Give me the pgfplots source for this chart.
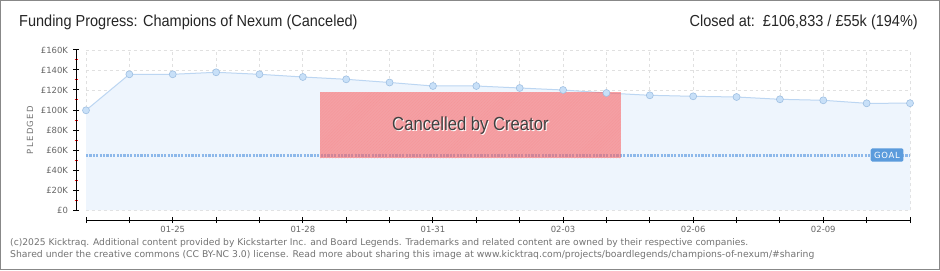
\documentclass[border=0pt]{standalone}
\usepackage{pgfplots}
\pgfplotsset{compat=1.18}
\usepackage{pgfplotstable}
\usepackage{fontspec}
\setmainfont{Liberation Sans}
\newfontfamily\titlefont[FakeStretch=0.91]{Liberation Sans}
\newfontfamily\cancelfont[FakeStretch=0.88]{Liberation Sans}
\newfontfamily\dv{DejaVu Sans}
\usetikzlibrary{patterns}
\definecolor{frame}{HTML}{888888}
\definecolor{tickgray}{HTML}{666666}
\definecolor{areafill}{HTML}{EEF5FD}
\definecolor{linec}{HTML}{BCD6F2}
\definecolor{markfill}{HTML}{C8E0F8}
\definecolor{markdraw}{HTML}{9EBFE2}
\definecolor{goalc}{HTML}{8DB8EA}
\definecolor{goalbox}{HTML}{5B9BDC}
\definecolor{cancel}{HTML}{FA6464}
\definecolor{gridc}{HTML}{E0E0E0}
\pgfplotstableread{
day val
0 99.7
1 135.7
2 135.7
3 137.7
4 135.7
5 133
6 130.7
7 127.5
8 124
9 124
10 122
11 120
12 117
13 114.7
14 113.7
15 113
16 110.7
17 109.7
18 106.7
19 106.8
}\pledged
\pgfplotstableread{
day val
0 55
19 55
}\goal
\begin{document}
\begin{tikzpicture}[x=1bp,y=1bp]
\useasboundingbox (0,0) rectangle (940,270);
\fill[white] (0,0) rectangle (940,270);
\draw[frame, line width=1.5bp] (0.75,0.75) rectangle (939.25,269.25);
\node[anchor=west, font=\titlefont\fontsize{16}{18}\selectfont, text=black!85, inner sep=0] at (19,248) {Funding Progress: Champions of Nexum (Canceled)};
\node[anchor=east, font=\titlefont\fontsize{16}{18}\selectfont, text=black!85, inner sep=0] at (918,248) {Closed at:\ \ £106,833 / £55k (194\%)};
\node[anchor=west, font=\dv\fontsize{9.2}{10}\selectfont, text=black!55, inner sep=0] at (10,27) {(c)2025 Kicktraq. Additional content provided by Kickstarter Inc. and Board Legends. Trademarks and related content are owned by their respective companies.};
\node[anchor=west, font=\dv\fontsize{9.3}{10}\selectfont, text=black!55, inner sep=0] at (10,15) {Shared under the creative commons (CC BY-NC 3.0) license. Read more about sharing this image at www.kicktraq.com/projects/boardlegends/champions-of-nexum/\#sharing};
\node[rotate=90, font=\dv\fontsize{8.5}{10}\selectfont\addfontfeature{LetterSpace=16}, text=black!55, inner sep=0] at (30,140) {PLEDGED};
\begin{axis}[
  at={(86bp,60bp)}, anchor=south west,
  scale only axis, width=824bp, height=160bp,
  xmin=0, xmax=19, ymin=0, ymax=160,
  clip=false,
  axis x line=bottom, axis y line=left,
  axis line shift=10bp,
  axis line style={-, black, line width=1bp},
  xtick={0,...,19},
  xticklabels={,,01-25,,,01-28,,,01-31,,,02-03,,,02-06,,,02-09,,},
  ytick={0,20,...,160},
  yticklabels={£0,£20K,£40K,£60K,£80K,£100K,£120K,£140K,£160K},
  minor y tick num=1,
  tick align=center,
  major tick length=6bp,
  minor tick length=3bp,
  major tick style={black, line width=1bp},
  minor tick style={red, line width=1bp},
  ticklabel style={font=\dv\fontsize{8.5}{10}\selectfont, text=tickgray},
  yticklabel style={xshift=-1.5bp},
  xmajorgrids, ymajorgrids,
  major grid style={gridc, dashed, line width=0.8bp},
]
\addplot[fill=areafill, draw=none] table[x=day,y=val]{\pledged} \closedcycle;
\addplot[goalc, line width=3bp, dash pattern=on 2.2bp off 1.2bp] table[x=day,y=val]{\goal};
\addplot[linec, line width=1bp, mark=*, mark size=3.5bp, mark options={fill=markfill, draw=markdraw, line width=0.6bp}] table[x=day,y=val]{\pledged};
\fill[cancel, opacity=0.58] (axis cs:5.40,51.7) rectangle (axis cs:12.33,117.7);
\fill[pattern=north east lines, pattern color=red!60, opacity=0.15] (axis cs:5.40,51.7) rectangle (axis cs:12.33,117.7);
\node[font=\cancelfont\fontsize{19}{21}\selectfont, text=white] at ([xshift=1bp,yshift=-1bp]axis cs:8.865,84.7) {Cancelled by Creator};
\node[font=\cancelfont\fontsize{19}{21}\selectfont, text=black!75] at (axis cs:8.865,84.7) {Cancelled by Creator};
\node[fill=goalbox, rounded corners=1.5bp, text=white, font=\dv\fontsize{8.5}{10}\selectfont\addfontfeature{LetterSpace=8}, inner xsep=3.5bp, inner ysep=3.5bp] at (axis cs:18.47,55) {GOAL};
\end{axis}
\end{tikzpicture}
\end{document}
